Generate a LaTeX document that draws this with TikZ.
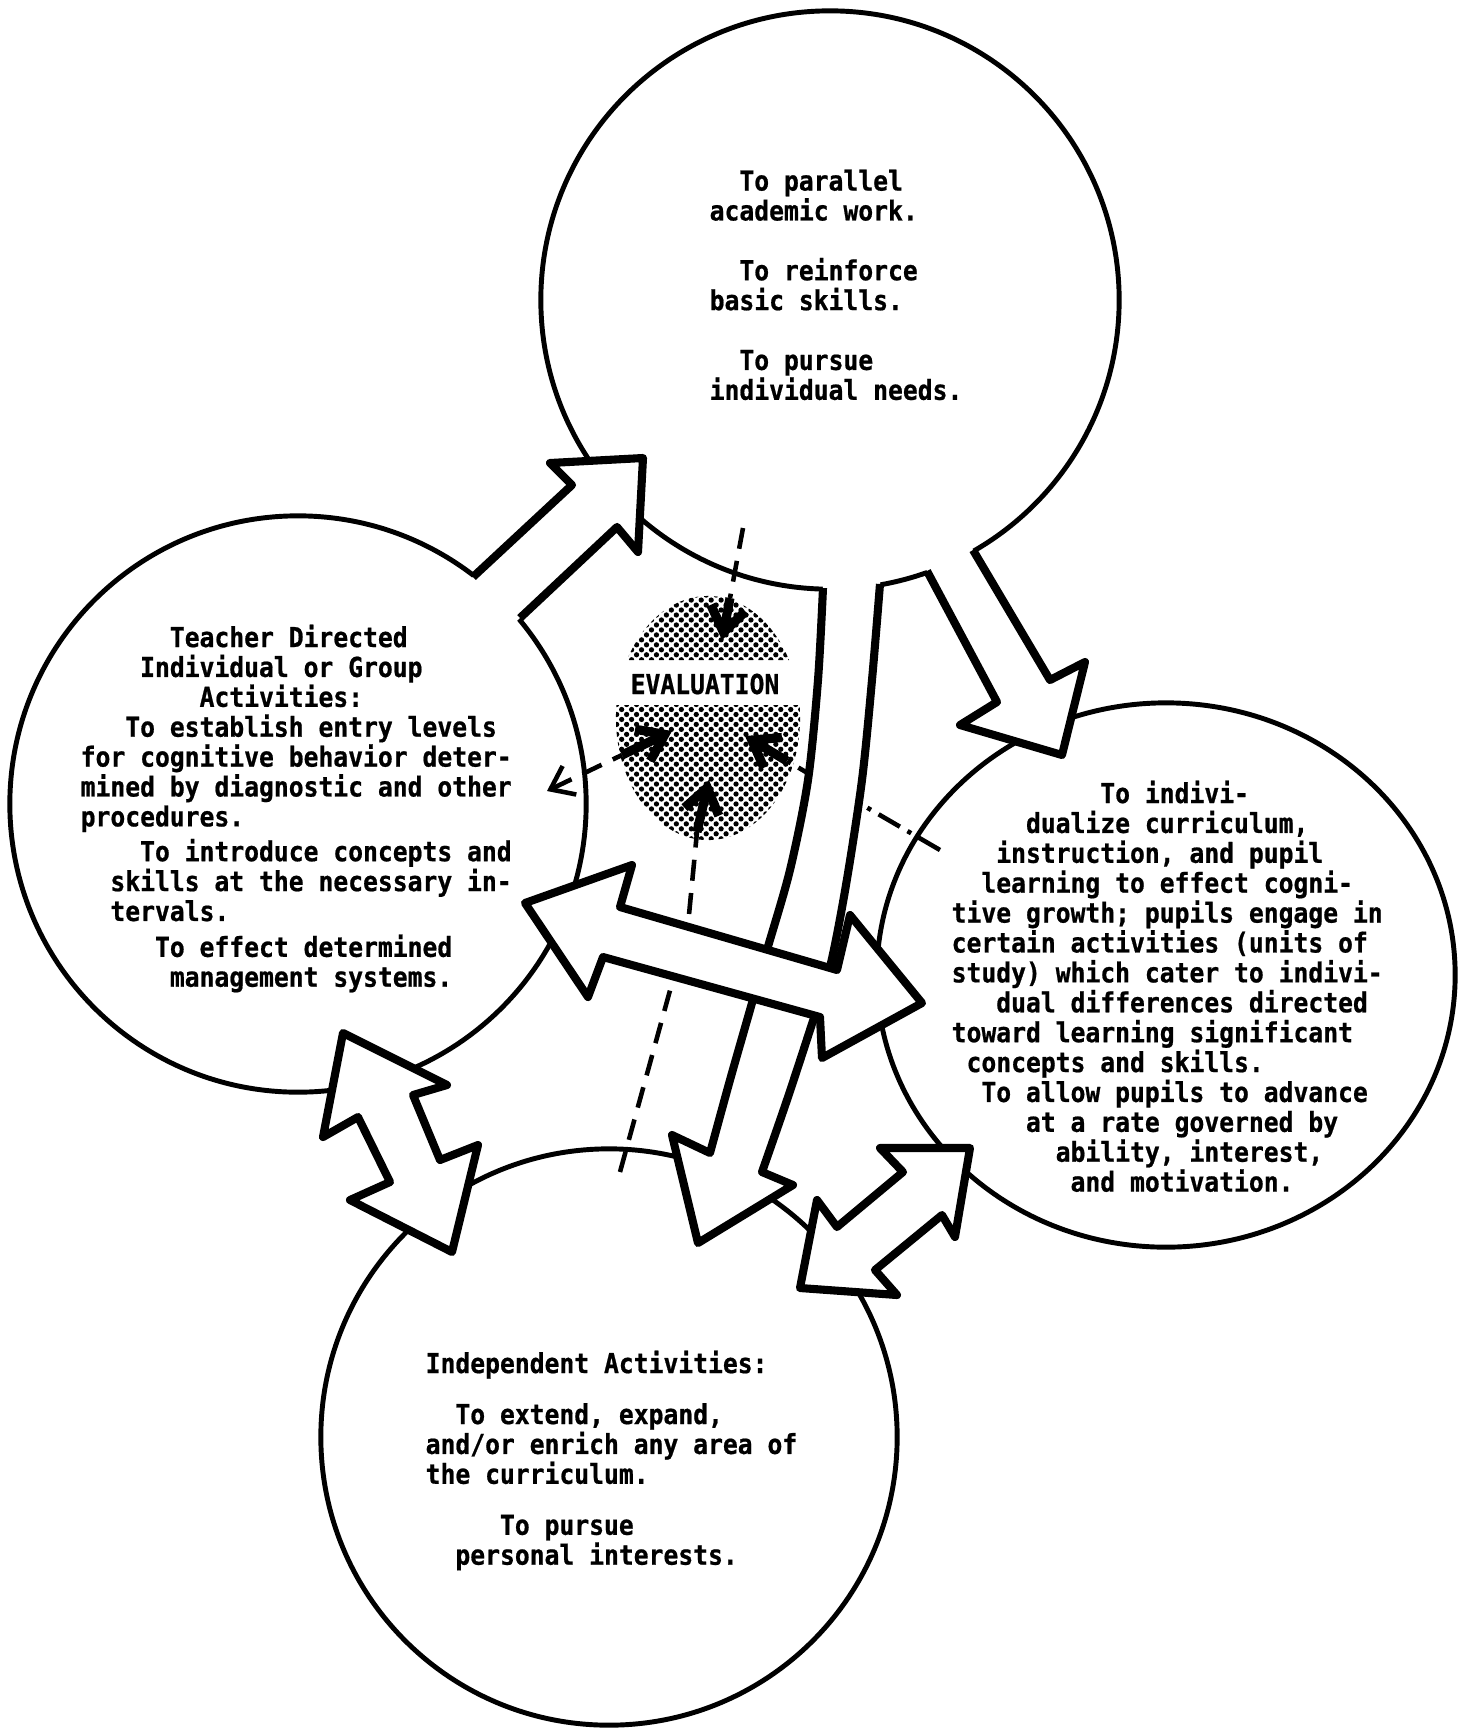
\documentclass[tikz,border=0pt]{standalone}
\usepackage{fontspec}
\newfontfamily\typer{DejaVu Sans Mono}[FakeStretch=0.9, BoldFeatures={FakeBold=0.7}]
\usetikzlibrary{arrows.meta,patterns.meta,shapes.geometric}
\newcommand\ind[1]{\hspace*{#1\fontcharwd\font`x}}
\tikzset{
  ring/.style={draw, line width=1.4pt, inner sep=0pt},
  bigarrow/.style={line width=2.3pt, line join=round},
  dashlink/.style={line width=1.3pt, dash pattern=on 6pt off 3.5pt},
  dotlink/.style={line width=1.3pt, dash pattern=on 7pt off 2.5pt on 1.2pt off 2.5pt},
  evalhead/.style={line width=2.6pt, -{Straight Barb[length=7pt,width=10pt]}},
  txt/.style={anchor=north west, inner sep=0pt, align=left,
    font=\typer\bfseries\fontsize{7.8}{8.5}\selectfont\frenchspacing},
}

\begin{document}
\begin{tikzpicture}[x=0.01cm, y=-0.01cm]
      \useasboundingbox (0,0) rectangle (1458,1729);
      \fill [white] (0,0) rectangle (1458,1729);

      % the four circles
      \node [ring, circle, minimum size=5.78cm] at (830,300) (topc) {};
      \node [ring, circle, minimum size=5.76cm] at (298,804) (leftc) {};
      \node [ring, ellipse, minimum width=5.78cm, minimum height=5.44cm] at (1166,975) (rightc) {};
      \node [ring, circle, minimum size=5.76cm] at (609,1437) (botc) {};

      % evaluation blob
      \begin{scope}
        \clip (0,0) rectangle (1458,660) (0,705) rectangle (1458,1729);
        \fill [pattern={Dots[distance=2pt, radius=0.75pt, angle=45]}] (708,718) ellipse [x radius=0.92cm, y radius=1.22cm];
      \end{scope}
      \node [font=\typer\bfseries\fontsize{7.8}{8.5}\selectfont, inner sep=0pt] at (705,684) (eval) {EVALUATION};

      \coordinate (topOut) at (743,528);
      \coordinate (topMid) at (730,598);
      \coordinate (topIn) at (722,640);
      \coordinate (leftOut) at (547,791);
      \coordinate (leftMid) at (622,755);
      \coordinate (leftIn) at (672,731);
      \coordinate (rightOut) at (940,850);
      \coordinate (rightMid) at (787,761);
      \coordinate (rightIn) at (745,736);
      \coordinate (botOut) at (620,1172);
      \coordinate (botMid) at (697,832);
      \coordinate (botIn) at (709,780);

      \draw [dashlink] (topOut) -- (topMid);
      \draw [evalhead] (topMid) -- (topIn);
      \draw [dashlink, {Straight Barb[length=6pt,width=9pt]}-] (leftOut) -- (leftMid);
      \draw [evalhead] (leftMid) -- (leftIn);
      \draw [dotlink] (rightOut) -- (rightMid);
      \draw [evalhead] (rightMid) -- (rightIn);
      \draw [dashlink] (botOut) -- (688,925) -- (botMid);
      \draw [evalhead] (botMid) -- (botIn);

      % teacher directed -> top
      \fill [white] (462,587) -- (473,577) -- (572,485) -- (550,463) -- (643,458) -- (638,552) -- (617,527) -- (520,618) -- (509,628) -- cycle;
      \draw [bigarrow] (473,577) -- (572,485) -- (550,463) -- (643,458) -- (638,552) -- (617,527) -- (520,618);

      % top -> independent (long one)
      \fill [white] plot [smooth] coordinates {(823,588) (818,680) (808,780) (790,870) (767,950) (750,1010) (730,1080) (710,1153)} -- (672,1135) -- (698,1243) -- (793,1185) -- (762,1172) -- plot [smooth] coordinates {(762,1172) (787,1100) (810,1030) (830,967) (846,885) (862,780) (872,680) (880,584)} -- (882,568) -- (821,572) -- cycle;
      \draw [bigarrow] plot [smooth] coordinates {(823,588) (818,680) (808,780) (790,870) (767,950) (750,1010) (730,1080) (710,1153)} -- (672,1135) -- (698,1243) -- (793,1185) -- (762,1172) -- plot [smooth] coordinates {(762,1172) (787,1100) (810,1030) (830,967) (846,885) (862,780) (872,680) (880,584)};

      % top -> right
      \fill [white] (920,558) -- (927,571) -- (997,702) -- (960,725) -- (1062,755) -- (1085,662) -- (1050,680) -- (973,550) -- (966,537) -- cycle;
      \draw [bigarrow] (927,571) -- (997,702) -- (960,725) -- (1062,755) -- (1085,662) -- (1050,680) -- (973,550);

      % left <-> right
      \filldraw [fill=white, bigarrow] (525,903) -- (632,865) -- (620,907) -- (837,970) -- (850,915) -- (922,1003) -- (822,1058) -- (820,1017) -- (603,957) -- (588,997) -- cycle;

      % left <-> independent
      \filldraw [fill=white, bigarrow] (343,1033) -- (447,1085) -- (413,1095) -- (440,1160) -- (478,1145) -- (452,1252) -- (350,1200) -- (390,1182) -- (358,1117) -- (323,1137) -- cycle;

      % independent <-> right
      \filldraw [fill=white, bigarrow] (970,1148) -- (955,1237) -- (942,1215) -- (875,1270) -- (897,1295) -- (800,1288) -- (817,1200) -- (837,1227) -- (903,1172) -- (880,1148) -- cycle;

      % texts
      \node [txt] at (709,169) (toptext) {\ind{2}To parallel\\
        academic work.\\[8.5pt]
        \ind{2}To reinforce\\
        basic skills.\\[8.5pt]
        \ind{2}To pursue\\
        individual needs.};

      \node [txt] at (80,624) (teacher) {\ind{6}Teacher Directed\\
        \ind{4}Individual or Group\\
        \ind{8}Activities:\\
        \ind{3}To establish entry levels\\
        for cognitive behavior deter-\\
        mined by diagnostic and other\\
        procedures.\\[1.4pt]
        \ind{4}To introduce concepts and\\
        \ind{2}skills at the necessary in-\\
        \ind{2}tervals.\\[1.7pt]
        \ind{5}To effect determined\\
        \ind{6}management systems.};

      \node [txt] at (951,780) (individ) {\ind{10}To indivi-\\
        \ind{5}dualize curriculum,\\
        \ind{3}instruction, and pupil\\
        \ind{2}learning to effect cogni-\\
        tive growth; pupils engage in\\
        certain activities (units of\\
        study) which cater to indivi-\\
        \ind{3}dual differences directed\\
        toward learning significant\\
        \ind{1}concepts and skills.\\
        \ind{2}To allow pupils to advance\\
        \ind{5}at a rate governed by\\
        \ind{7}ability, interest,\\
        \ind{8}and motivation.};

      \node [txt] at (425,1350) (indep) {Independent Activities:\\[6pt]
        \ind{2}To extend, expand,\\
        and/or enrich any area of\\
        the curriculum.\\[6pt]
        \ind{5}To pursue\\
        \ind{2}personal interests.};
\end{tikzpicture}
\end{document}
